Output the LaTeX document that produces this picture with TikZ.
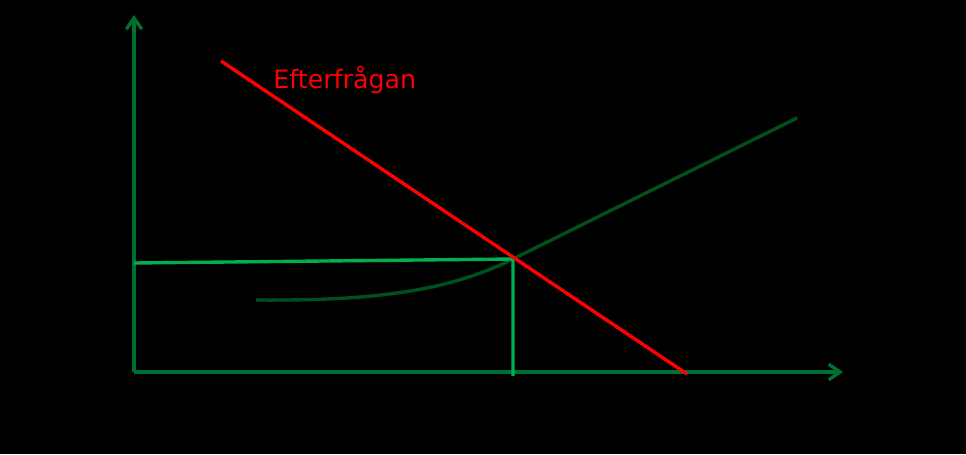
\documentclass[tikz,border=0pt]{standalone}
\usepackage{fontspec}
\setmainfont{DejaVu Sans}
\usetikzlibrary{arrows.meta}
\definecolor{axisgreen}{RGB}{0,112,50}
\definecolor{supplygreen}{RGB}{0,80,30}
\definecolor{eqgreen}{RGB}{0,176,80}
\definecolor{demandred}{RGB}{255,0,0}
\begin{document}
\begin{tikzpicture}[x=0.025cm, y=-0.025cm, line width=2.4pt]
\fill[black] (0,0) rectangle (966,454);
\useasboundingbox (0,0) rectangle (966,454);
\coordinate (O) at (134,372);
\coordinate (YTOP) at (134,15);
\coordinate (XEND) at (843,372);
\coordinate (D1) at (221,61);
\coordinate (D2) at (687,374);
\coordinate (S1) at (256,300);
\coordinate (EQ) at (513,259);
\coordinate (S2) at (797,118);
\coordinate (P) at (134,263);
\coordinate (Q) at (513,376);
\node (DEM) at (267,80) [anchor=west, text=demandred, font=\fontsize{18}{21}\selectfont] {Efterfrågan};

\draw [-{Straight Barb[length=8pt,width=11pt]}, axisgreen] (O) to (YTOP);
\draw [-{Straight Barb[length=8pt,width=11pt]}, axisgreen] (O) to (XEND);
\draw [supplygreen] (S1) .. controls (380,301) and (450,290) .. (EQ) -- (S2);
\draw [eqgreen] (P) -- (EQ) -- (Q);
\draw [demandred] (D1) to (D2);
\end{tikzpicture}
\end{document}
